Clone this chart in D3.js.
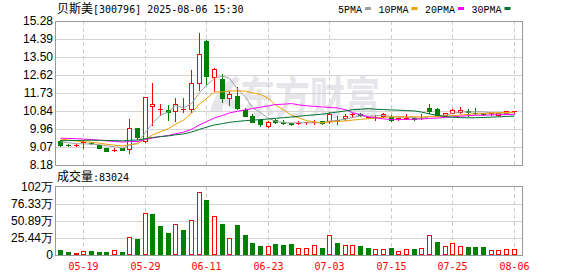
<!DOCTYPE html>
<html>
<head>
<meta charset="utf-8">
<script src="https://cdn.jsdelivr.net/npm/d3@7"></script>
<style>
body { margin: 0; background: #fff; }
svg { display: block; }
</style>
</head>
<body>
<svg id="chart" width="578" height="276"></svg>
<script>
const stockName = '贝斯美';
const stockInfo = '[300796] 2025-08-06 15:30';

const dates = ['05-14','05-15','05-16','05-19','05-20','05-21','05-22','05-23','05-26','05-27','05-28','05-29','05-30',
    '06-03','06-04','06-05','06-06','06-09','06-10','06-11','06-12','06-13','06-16','06-17','06-18','06-19','06-20','06-23','06-24','06-25','06-26','06-27','06-30',
    '07-01','07-02','07-03','07-04','07-07','07-08','07-09','07-10','07-11','07-14','07-15','07-16','07-17','07-18','07-21','07-22','07-23','07-24','07-25','07-28','07-29','07-30','07-31',
    '08-01','08-04','08-05','08-06'];

const open  = [9.36, 9.19, 9.15, 9.26, 9.28, 9.15, 9.02, 8.90, 9.00, 8.97, 9.99, 9.36, 11.10, 10.90, 10.89, 10.84, 10.90, 10.93, 12.21, 14.29,
    12.50, 12.42, 11.47, 11.58, 10.88, 10.61, 10.40, 10.09, 10.38, 10.30, 10.24, 10.23, 10.26, 10.27, 10.35, 10.35, 10.36, 10.48, 10.66, 10.70,
    10.52, 10.54, 10.60, 10.56, 10.45, 10.48, 10.50, 10.47, 11.01, 10.93, 10.65, 10.76, 10.81, 10.82, 10.76, 10.72, 10.68, 10.64, 10.74, 10.83];
const high  = [9.41, 9.24, 9.20, 9.40, 9.33, 9.18, 9.03, 9.00, 9.04, 10.43, 10.02, 11.55, 12.21, 11.17, 11.15, 11.50, 11.50, 12.86, 14.67, 14.34,
    12.95, 12.65, 11.83, 12.04, 10.98, 10.69, 10.45, 10.35, 10.45, 10.38, 10.27, 10.35, 10.31, 10.38, 10.37, 10.78, 10.58, 10.69, 10.73, 10.75,
    10.56, 10.64, 10.72, 10.65, 10.50, 10.68, 10.56, 10.67, 11.19, 11.00, 10.76, 10.92, 11.05, 10.92, 11.00, 10.74, 10.76, 10.74, 10.86, 10.86];
const low   = [9.13, 9.12, 9.10, 9.03, 9.20, 9.00, 8.88, 8.85, 8.90, 8.79, 9.46, 9.30, 10.15, 10.65, 10.40, 10.37, 10.81, 10.81, 11.88, 12.17,
    11.83, 11.30, 11.14, 10.94, 10.58, 10.28, 10.12, 10.03, 10.24, 10.18, 10.17, 10.18, 10.18, 10.20, 10.22, 10.23, 10.22, 10.40, 10.56, 10.58,
    10.48, 10.42, 10.55, 10.35, 10.40, 10.45, 10.40, 10.45, 10.73, 10.60, 10.58, 10.72, 10.76, 10.62, 10.70, 10.66, 10.64, 10.58, 10.70, 10.75];
const close = [9.17, 9.16, 9.17, 9.29, 9.25, 9.03, 8.89, 8.94, 8.93, 9.99, 9.58, 11.52, 11.17, 10.93, 10.78, 11.17, 10.95, 12.21, 13.64, 12.58,
    12.91, 11.47, 11.68, 10.98, 10.61, 10.32, 10.19, 10.30, 10.29, 10.26, 10.22, 10.25, 10.28, 10.30, 10.24, 10.68, 10.40, 10.61, 10.69, 10.64,
    10.54, 10.57, 10.68, 10.40, 10.48, 10.52, 10.45, 10.52, 10.86, 10.63, 10.73, 10.89, 10.90, 10.78, 10.72, 10.70, 10.72, 10.73, 10.82, 10.85];

// closes of the 29 sessions before the first candle (needed for the moving averages)
const priorClose = [9.05, 9.10, 9.02, 9.08, 9.15, 9.12, 9.20, 9.18, 9.25, 9.25,
    9.38, 9.45, 9.60, 9.72, 9.65, 9.58, 9.50, 9.55, 9.49, 9.48,
    9.62, 9.70, 9.58, 9.55, 9.50, 9.42, 9.38, 9.35, 9.33];

// volume in 万
const volume = [7.4, 4.5, 2.5, 6, 6, 4.5, 4.5, 7, 4.5, 26.3, 23.8, 63.6, 61, 43.2, 32.8, 45.7, 37.2, 51.7, 94.8, 82,
    57.7, 46.2, 24.8, 44.7, 29.8, 17.9, 13.4, 13.4, 16.4, 14.9, 16.4, 10, 10, 14.4, 10.4, 29.3, 17.9, 15.4, 14.4, 13,
    10.4, 8.4, 8.4, 10.9, 5.5, 8.4, 8.9, 10, 29.3, 19.4, 13, 17.9, 13, 11.4, 11.4, 11.4, 7, 7, 8.4, 8.3024];
const lastVolume = 83024;

const priceTicks = [8.18, 9.07, 9.96, 10.84, 11.73, 12.62, 13.50, 14.39, 15.28];
const volumeTicks = [0, 25.44, 50.89, 76.33, 101.77];
const volumeTickLabels = ['0', '25.44万', '50.89万', '76.33万', '102万'];
const dateTicks = ['05-19', '05-29', '06-11', '06-23', '07-03', '07-15', '07-25', '08-06'];

const maPeriods = [5, 10, 20, 30];
const maNames = ['5PMA', '10PMA', '20PMA', '30PMA'];
const maColors = ['#a0a0a0', '#f0a000', '#ff00ff', '#007030'];

const RED = '#ff0000', GREEN = '#008000';
const GRID = '#d4d4d4', FRAME = '#999999';
const CJK = '"Noto Sans CJK SC", sans-serif';
const MONO = '"DejaVu Sans Mono", monospace';

const svg = d3.select('#chart');
const L = 55.5, R = 522.5;

const x = d3.scaleBand().domain(d3.range(dates.length)).range([56.35, 517.55]);
const cx = i => Math.round(x(i) + x.bandwidth() / 2);
const y = d3.scaleLinear().domain([8.18, 15.28]).range([165, 21]);
const vy = d3.scaleLinear().domain([0, 101.77]).range([255, 187]);

svg.append('rect').attr('width', 578).attr('height', 276).attr('fill', '#fff');

drawHeader();
drawWatermark();
drawPricePanel();
drawVolumePanel();
drawDateAxis();

function drawHeader() {
    const t = svg.append('text').attr('x', 57).attr('y', 13).attr('fill', '#000');
    t.append('tspan').style('font-family', CJK).style('font-size', '12px').text(stockName);
    t.append('tspan').style('font-family', MONO).style('font-size', '10px').text(stockInfo);

    let lx = 338;
    maNames.forEach((name, k) => {
        svg.append('text')
            .attr('x', lx).attr('y', 12.5)
            .style('font-family', '"Liberation Mono", monospace')
            .style('font-size', '10px')
            .attr('fill', '#000')
            .text(name);
        const w = name.length * 6;
        svg.append('rect')
            .attr('x', lx + w + 3).attr('y', 7)
            .attr('width', 6).attr('height', 3)
            .attr('fill', maColors[k]);
        lx += w + 3 + 6 + 7.5;
    });
}

function drawWatermark() {
    const g = svg.append('g').attr('fill', '#e6e6ea');
    g.append('path')
        .attr('d', 'M210,112 C214,96 222,84 236,76 L240,80 C230,88 224,98 222,112 Z M222,90 L238,104 L234,110 L218,98 Z');
    g.append('text')
        .attr('x', 240).attr('y', 114)
        .attr('textLength', 140).attr('lengthAdjust', 'spacingAndGlyphs')
        .style('font-family', CJK).style('font-size', '44px').style('font-weight', 'bold')
        .text('东方财富');
}

function movingAverage(n) {
    const all = priorClose.concat(close);
    const off = priorClose.length;
    return close.map((d, i) => d3.mean(all.slice(off + i - n + 1, off + i + 1)));
}

function drawPricePanel() {
    // horizontal grid + labels
    svg.append('g').selectAll('line')
        .data(priceTicks.slice(1, -1))
        .enter().append('line')
        .attr('x1', L).attr('x2', R)
        .attr('y1', d => Math.round(y(d)) + 0.5).attr('y2', d => Math.round(y(d)) + 0.5)
        .attr('stroke', GRID);

    svg.append('g').selectAll('text')
        .data(priceTicks)
        .enter().append('text')
        .attr('x', 53).attr('y', d => y(d))
        .attr('dy', '0.36em')
        .attr('text-anchor', 'end')
        .style('font-family', '"Liberation Sans", Arial, sans-serif')
        .style('font-size', '12px')
        .attr('fill', '#000')
        .text(d => d.toFixed(2));

    drawDateLines(21, 165);

    // candles
    const candles = svg.append('g').selectAll('g')
        .data(d3.range(dates.length))
        .enter().append('g');

    candles.append('line')
        .attr('x1', i => cx(i) + 0.5).attr('x2', i => cx(i) + 0.5)
        .attr('y1', i => Math.round(y(high[i]))).attr('y2', i => Math.round(y(low[i])) + 1)
        .attr('stroke', i => close[i] >= open[i] ? RED : GREEN);

    candles.each(function(i) {
        const g = d3.select(this);
        const top = Math.round(y(Math.max(open[i], close[i])));
        const bot = Math.round(y(Math.min(open[i], close[i])));
        if (close[i] > open[i]) {
            if (bot - top < 2) {
                g.append('rect').attr('x', cx(i) - 2).attr('y', top).attr('width', 5).attr('height', Math.max(1, bot - top)).attr('fill', RED);
            } else {
                g.append('rect')
                    .attr('x', cx(i) - 1.5).attr('y', top + 0.5)
                    .attr('width', 4).attr('height', bot - top)
                    .attr('fill', '#fff').attr('stroke', RED);
            }
        } else {
            g.append('rect')
                .attr('x', cx(i) - 2).attr('y', top)
                .attr('width', 5).attr('height', Math.max(1, bot - top + 1))
                .attr('fill', GREEN);
        }
    });

    // moving averages
    maPeriods.forEach((n, k) => {
        const ma = movingAverage(n);
        svg.append('path')
            .datum(ma)
            .attr('fill', 'none')
            .attr('stroke', maColors[k])
            .attr('stroke-width', 1)
            .attr('d', d3.line().x((d, i) => cx(i) + 0.5).y(d => y(d)));
    });

    svg.append('rect')
        .attr('x', L).attr('y', 21.5).attr('width', R - L).attr('height', 144)
        .attr('fill', 'none').attr('stroke', FRAME);
}

function drawVolumePanel() {
    svg.append('text')
        .attr('x', 57).attr('y', 181)
        .attr('fill', '#000')
        .call(t => {
            t.append('tspan').style('font-family', CJK).style('font-size', '12px').text('成交量');
            t.append('tspan').style('font-family', MONO).style('font-size', '10px').text(':' + lastVolume);
        });

    svg.append('g').selectAll('line')
        .data(volumeTicks.slice(1, -1))
        .enter().append('line')
        .attr('x1', L).attr('x2', R)
        .attr('y1', d => Math.round(vy(d)) + 0.5).attr('y2', d => Math.round(vy(d)) + 0.5)
        .attr('stroke', GRID);

    svg.append('g').selectAll('text')
        .data(volumeTicks)
        .enter().append('text')
        .attr('x', 53).attr('y', d => vy(d))
        .attr('dy', '0.36em')
        .attr('text-anchor', 'end')
        .style('font-family', '"Liberation Sans", Arial, sans-serif')
        .style('font-size', '12px')
        .attr('fill', '#000')
        .text((d, k) => volumeTickLabels[k]);

    drawDateLines(187, 255);

    const prevClose = i => i === 0 ? priorClose[priorClose.length - 1] : close[i - 1];

    svg.append('g').selectAll('rect')
        .data(d3.range(dates.length))
        .enter().append('rect')
        .each(function(i) {
            const up = close[i] >= prevClose(i);
            const top = Math.round(vy(volume[i]));
            const bar = d3.select(this);
            if (up) {
                bar.attr('x', cx(i) - 1.5).attr('y', top + 0.5)
                    .attr('width', 4).attr('height', 255 - top - 1)
                    .attr('fill', '#fff').attr('stroke', RED);
            } else {
                bar.attr('x', cx(i) - 2).attr('y', top)
                    .attr('width', 5).attr('height', 255 - top)
                    .attr('fill', GREEN);
            }
        });

    svg.append('rect')
        .attr('x', L).attr('y', 186.5).attr('width', R - L).attr('height', 69)
        .attr('fill', 'none').attr('stroke', FRAME);
}

function drawDateLines(y1, y2) {
    svg.append('g').selectAll('line')
        .data(dateTicks)
        .enter().append('line')
        .attr('x1', d => cx(dates.indexOf(d)) + 0.5).attr('x2', d => cx(dates.indexOf(d)) + 0.5)
        .attr('y1', y1).attr('y2', y2)
        .attr('stroke', '#cccccc')
        .attr('stroke-dasharray', '4,3');
}

function drawDateAxis() {
    svg.append('g').selectAll('text')
        .data(dateTicks)
        .enter().append('text')
        .attr('x', d => cx(dates.indexOf(d)) + 0.5)
        .attr('y', 269.5)
        .attr('text-anchor', 'middle')
        .style('font-family', MONO)
        .style('font-size', '10px')
        .attr('fill', RED)
        .text(d => d);
}
</script>
</body>
</html>
